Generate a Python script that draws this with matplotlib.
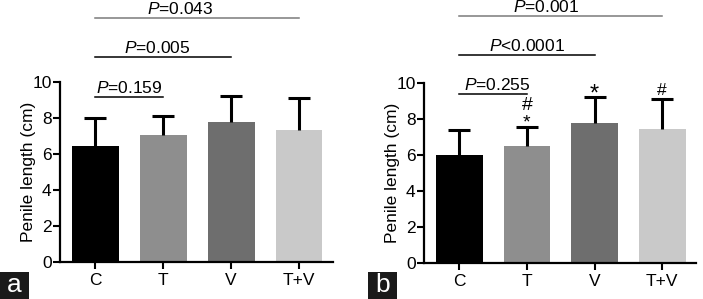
import matplotlib
matplotlib.use("Agg")
import matplotlib.pyplot as plt
from matplotlib.patches import Rectangle

plt.rcParams['font.family'] = ['Liberation Sans', 'DejaVu Sans']
plt.rcParams['mathtext.fontset'] = 'custom'
plt.rcParams['mathtext.rm'] = 'Liberation Sans'
plt.rcParams['mathtext.it'] = 'Liberation Sans:italic'

groups = ['C', 'T', 'V', 'T+V']
colors = ['#000000', '#8e8e8e', '#6e6e6e', '#c9c9c9']

len_a = [6.44, 7.06, 7.78, 7.33]
sd_a = [1.56, 1.05, 1.44, 1.78]
len_b = [6.0, 6.5, 7.78, 7.44]
sd_b = [1.39, 1.06, 1.44, 1.67]

p_a = ['0.159', '0.005', '0.043']
p_b = ['=0.255', '<0.0001', '=0.001']
marks_b = ['', '#\n*', '*', '#']

W, H = 703, 299
fig = plt.figure(figsize=(W / 100, H / 100), dpi=100)


def px_axes(l, r, top, bottom):
    return fig.add_axes([l / W, 1 - bottom / H, (r - l) / W, (bottom - top) / H])


def draw_panel(ax, vals, sds):
    x = range(len(groups))
    ax.bar(x, vals, width=0.69, color=colors, zorder=2)
    cont = ax.errorbar(x, vals, yerr=[[0] * len(vals), sds], fmt='none', ecolor='black',
                       elinewidth=2.2, capsize=8, capthick=2.2, zorder=3)
    caps = cont.lines[1]
    if len(caps) == 2:
        caps[0].set_visible(False)
    ax.set_xlim(-0.52, 3.5)
    ax.set_ylim(0, 10)
    ax.set_yticks([0, 2, 4, 6, 8, 10])
    ax.set_xticks(list(x))
    ax.set_xticklabels(groups, fontsize=12.5)
    ax.tick_params(axis='y', labelsize=12.5, length=5, width=1.5, pad=1)
    ax.tick_params(axis='x', length=5, width=1.5, pad=3)
    for s in ['top', 'right']:
        ax.spines[s].set_visible(False)
    for s in ['left', 'bottom']:
        ax.spines[s].set_linewidth(1.6)
    ax.set_ylabel('Penile length (cm)', fontsize=12.5, labelpad=-2.5)


def bracket(ax, x0, x1, y, text, tx, color):
    ax.plot([x0, x1], [y, y], color=color, lw=1.1, clip_on=False, zorder=4)
    ax.text(tx, y + 0.2, text, ha='center', va='baseline', fontsize=12.5,
            clip_on=False)


# Panel a
ax1 = px_axes(60, 333, 82, 262)
draw_panel(ax1, len_a, sd_a)
bracket(ax1, 0, 1, 9.17, r'$P$=' + p_a[0], 0.49, 'black')
bracket(ax1, 0, 2, 11.39, r'$P$=' + p_a[1], 0.91, 'black')
bracket(ax1, 0, 3, 13.56, r'$P$=' + p_a[2], 1.25, '#7a7a7a')

# Panel b
ax2 = px_axes(424, 696, 83, 263)
draw_panel(ax2, len_b, sd_b)
bracket(ax2, 0, 1, 9.39, r'$P$' + p_b[0], 0.56, 'black')
bracket(ax2, 0, 2, 11.56, r'$P$' + p_b[1], 1.01, 'black')
bracket(ax2, 0, 3, 13.72, r'$P$' + p_b[2], 1.29, '#7a7a7a')

for i, m in enumerate(marks_b):
    top = len_b[i] + sd_b[i]
    if m == '#\n*':
        ax2.text(i, top - 0.01, m, ha='center', va='baseline', fontsize=14,
                 linespacing=0.97, clip_on=False)
    elif m == '*':
        ax2.text(i, top - 0.2, '*', ha='center', va='baseline', fontsize=17, clip_on=False)
    elif m == '#':
        ax2.text(i, top + 0.25, '#', ha='center', va='baseline', fontsize=12.5, clip_on=False)

# Panel labels
for (lx, letter) in [(0, 'a'), (368, 'b')]:
    fig.patches.append(Rectangle((lx / W, 0), 29 / W, 27 / H, transform=fig.transFigure,
                                 facecolor='#1a1a1a', edgecolor='none', zorder=5))
    fig.text((lx + 14.5) / W, 13.5 / H, letter, color='white', fontsize=19,
             ha='center', va='center', zorder=6)

fig.savefig('out.png', dpi=100)
